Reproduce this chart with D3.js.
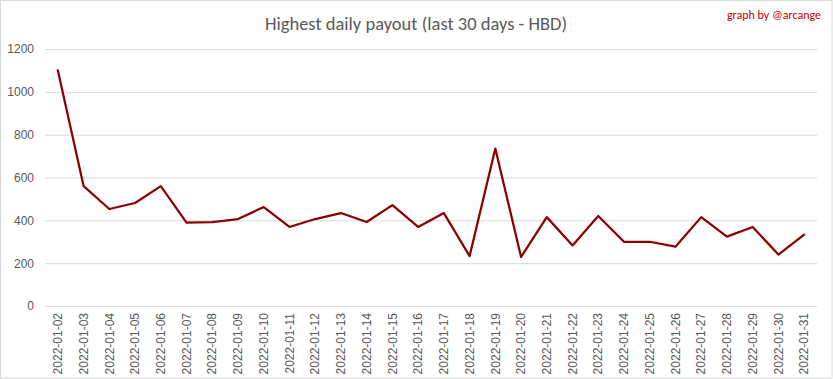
<!DOCTYPE html>
<html><head><meta charset="utf-8">
<script src="https://cdn.jsdelivr.net/npm/d3@7"></script>
<style>body{margin:0;background:#fff;}svg{display:block;font-family:Carlito,Calibri,Lato,"Open Sans",sans-serif;}</style>
</head><body>
<script>
const dates = ["2022-01-02","2022-01-03","2022-01-04","2022-01-05","2022-01-06","2022-01-07","2022-01-08","2022-01-09","2022-01-10","2022-01-11","2022-01-12","2022-01-13","2022-01-14","2022-01-15","2022-01-16","2022-01-17","2022-01-18","2022-01-19","2022-01-20","2022-01-21","2022-01-22","2022-01-23","2022-01-24","2022-01-25","2022-01-26","2022-01-27","2022-01-28","2022-01-29","2022-01-30","2022-01-31"];
const payout = [1100,560,453,481,560,389,392,406,462,369,406,434,392,471,369,434,233,735,229,415,283,420,300,300,277,415,324,369,240,333];
const yTicks = [0,200,400,600,800,1000,1200];
const title = "Highest daily payout (last 30 days - HBD)";
const credit = "graph by @arcange";

const W = 833, H = 379;
const svg = d3.select("body").append("svg").attr("width", W).attr("height", H);
svg.append("rect").attr("x",0.5).attr("y",0.5).attr("width",W-1.5).attr("height",H-1.5)
  .attr("fill","#fff").attr("stroke","#d9d9d9");

const x = d3.scaleBand().domain(dates).range([45, 817]);
const y = d3.scaleLinear().domain([0,1200]).range([306, 49]);

const gy = svg.append("g").attr("transform","translate(45,0)")
  .call(d3.axisLeft(y).tickValues(yTicks).tickFormat(d3.format("d")).tickSize(-(817-45)).tickPadding(11));
gy.select(".domain").remove();
gy.selectAll(".tick line").attr("stroke","#d9d9d9").attr("stroke-width",1);
gy.selectAll(".tick text").attr("fill","#595959").style("font-size","12px").style("font-family","inherit");

const gx = svg.append("g").attr("transform","translate(0,306)")
  .call(d3.axisBottom(x).tickSize(0).tickPadding(0));
gx.select(".domain").remove();
gx.selectAll(".tick text").attr("fill","#595959").style("font-size","12px").style("font-family","inherit")
  .attr("transform","rotate(-90)").attr("text-anchor","end").attr("x",-7).attr("y",0).attr("dy","0.35em");

const line = d3.line().x((d,i)=>x(dates[i]) + x.bandwidth()/2).y(d=>y(d));
svg.append("path").datum(payout).attr("d", line).attr("fill","none")
  .attr("stroke","#8b0000").attr("stroke-width",2.25).attr("stroke-linejoin","round").attr("stroke-linecap","round");

svg.append("text").attr("x",416).attr("y",30).attr("text-anchor","middle")
  .attr("fill","#595959").style("font-size","18.5px").text(title);
svg.append("text").attr("x",821).attr("y",19).attr("text-anchor","end")
  .attr("fill","#c00000").style("font-size","12px").text(credit);
</script>
</body></html>
